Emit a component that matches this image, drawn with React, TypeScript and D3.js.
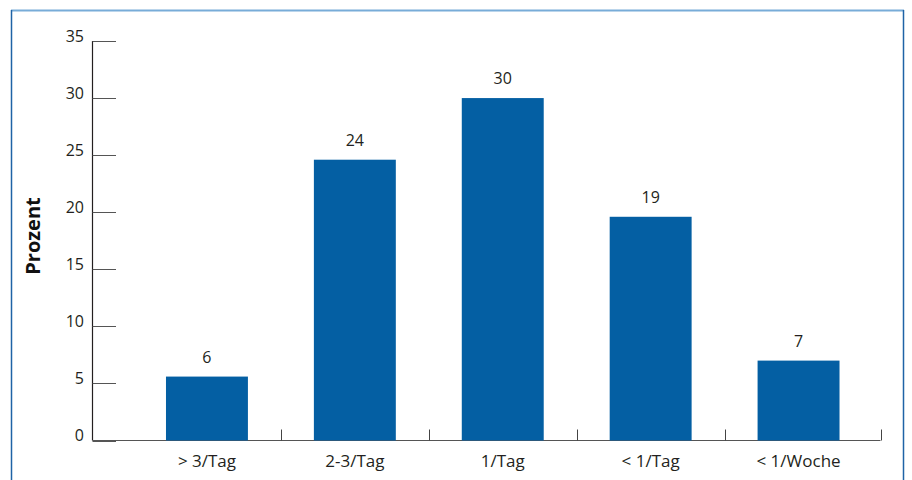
import React, { useEffect, useRef } from "react";
import * as d3 from "d3";

// data
const categories = ["> 3/Tag", "2-3/Tag", "1/Tag", "< 1/Tag", "< 1/Woche"];
const values = [5.6, 24.6, 30, 19.6, 7];
const valueLabels = ["6", "24", "30", "19", "7"];
const yTicks = [0, 5, 10, 15, 20, 25, 30, 35];

const FONT = "'Open Sans', 'Noto Sans', sans-serif";
const BAR = "#045fa3";
const TEXT = "#231f20";

export default function App() {
  const ref = useRef<SVGSVGElement | null>(null);

  useEffect(() => {
    const W = 912;
    const H = 480;
    const svg = d3.select(ref.current);
    svg.selectAll("*").remove();

    // frame
    svg.append("line").attr("x1", 11).attr("x2", 904).attr("y1", 10.5).attr("y2", 10.5)
      .attr("stroke", "#78acd8").attr("stroke-width", 2);
    svg.append("line").attr("x1", 11.5).attr("x2", 11.5).attr("y1", 10).attr("y2", H)
      .attr("stroke", "#1f63a6").attr("stroke-width", 1.5);
    svg.append("line").attr("x1", 903.5).attr("x2", 903.5).attr("y1", 10).attr("y2", H)
      .attr("stroke", "#1f63a6").attr("stroke-width", 1.5);

    const axisLeft = 92.5;
    const axisRight = 880.5;

    const y = d3.scaleLinear().domain([0, 35]).range([440.5, 41]);
    const x = d3
      .scaleBand()
      .domain(categories)
      .range([133, 872.5])
      .paddingInner(0.446)
      .paddingOuter(0.223);

    // y axis
    svg.append("line").attr("x1", axisLeft).attr("x2", axisLeft)
      .attr("y1", y(35)).attr("y2", y(0)).attr("stroke", TEXT).attr("stroke-width", 1.2);
    const yt = svg.append("g").selectAll("g").data(yTicks).enter().append("g");
    yt.append("line")
      .attr("x1", axisLeft).attr("x2", 116)
      .attr("y1", (d) => Math.round(y(d)) + 0.5).attr("y2", (d) => Math.round(y(d)) + 0.5)
      .attr("stroke", "#555").attr("stroke-width", 1);
    yt.append("text")
      .attr("x", 84).attr("y", (d) => y(d) + 0.5)
      .attr("text-anchor", "end")
      .attr("fill", TEXT)
      .style("font-family", FONT).style("font-size", "16px")
      .text((d) => d);

    // x axis
    svg.append("line").attr("x1", axisLeft).attr("x2", axisRight)
      .attr("y1", y(0)).attr("y2", y(0)).attr("stroke", "#555").attr("stroke-width", 1.2);
    const gap = (x.step() - x.bandwidth()) / 2;
    const bounds = categories.slice(0, -1).map((c) => x(c)! + x.bandwidth() + gap);
    bounds.push(axisRight);
    svg.append("g").selectAll("line").data(bounds).enter().append("line")
      .attr("x1", (d) => Math.round(d) + 0.5).attr("x2", (d) => Math.round(d) + 0.5)
      .attr("y1", y(0) - 11).attr("y2", y(0))
      .attr("stroke", "#444").attr("stroke-width", 1);

    svg.append("g").selectAll("text").data(categories).enter().append("text")
      .attr("x", (d) => x(d)! + x.bandwidth() / 2)
      .attr("y", 467)
      .attr("text-anchor", "middle")
      .attr("fill", TEXT)
      .style("font-family", FONT).style("font-size", "17px")
      .text((d) => d);

    // bars
    svg.append("g").selectAll("rect").data(values).enter().append("rect")
      .attr("x", (d, i) => x(categories[i])!)
      .attr("y", (d) => y(d))
      .attr("width", x.bandwidth())
      .attr("height", (d) => y(0) - y(d))
      .attr("fill", BAR);

    svg.append("g").selectAll("text").data(values).enter().append("text")
      .attr("x", (d, i) => x(categories[i])! + x.bandwidth() / 2)
      .attr("y", (d) => y(d) - 14)
      .attr("text-anchor", "middle")
      .attr("fill", TEXT)
      .style("font-family", FONT).style("font-size", "16px")
      .text((d, i) => valueLabels[i]);

    // axis title
    svg.append("text")
      .attr("transform", "translate(40,236)rotate(-90)")
      .attr("text-anchor", "middle")
      .attr("fill", "#111")
      .style("font-family", FONT).style("font-size", "20px").style("font-weight", "bold")
      .text("Prozent");

    svg.attr("width", W).attr("height", H);
  }, []);

  return (
    <svg
      ref={ref}
      width={912}
      height={480}
      style={{ position: "absolute", left: 0, top: 0, background: "#fff" }}
    />
  );
}
